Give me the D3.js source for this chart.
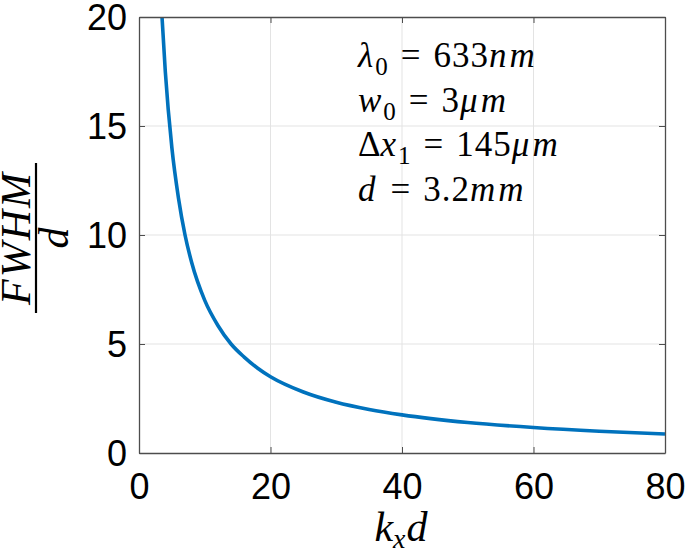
<!DOCTYPE html>
<html>
<head>
<meta charset="utf-8">
<script src="https://cdn.jsdelivr.net/npm/d3@7"></script>
<style>
  html, body { margin: 0; padding: 0; background: #fff; }
  svg { display: block; }
  .tick text { font-family: "Liberation Sans", Arial, sans-serif; }
  .math { font-family: "Liberation Serif", "Times New Roman", serif; }
</style>
</head>
<body>
<div id="chart"></div>
<script>
// values
const kd = [3.5, 4, 5, 6, 7, 8, 10, 12, 14, 16, 18, 20, 25, 30, 35, 40, 50, 60, 70, 80];
const fwhm = [20, 17.5, 14, 11.7, 10, 8.75, 7, 5.85, 5, 4.4, 3.9, 3.5, 2.8, 2.33, 2.0, 1.75, 1.4, 1.17, 1.0, 0.87];
const xTicks = [0, 20, 40, 60, 80];
const yTicks = [0, 5, 10, 15, 20];
// each line: symbol, subscript, value, unit
const notes = [
  ["λ", "0", "633", "nm"],
  ["w", "0", "3", "μm"],
  ["Δx", "1", "145", "μm"],
  ["d", "", "3.2", "mm"]
];

const W = 685, H = 555;
const m = { left: 139, top: 17, right: 20, bottom: 102 };

const svg = d3.select('#chart').append('svg')
  .attr('width', W).attr('height', H);

const x = d3.scaleLinear().domain([0, 80]).range([m.left, W - m.right]);
const y = d3.scaleLinear().domain([0, 20]).range([H - m.bottom, m.top]);

const axisColor = '#4d4d4d';

// grid
svg.append('g').selectAll('line').data(xTicks.slice(1, -1)).join('line')
  .attr('x1', d => x(d)).attr('x2', d => x(d))
  .attr('y1', y(0)).attr('y2', y(20))
  .attr('stroke', '#e3e3e3').attr('stroke-width', 1);
svg.append('g').selectAll('line').data(yTicks.slice(1, -1)).join('line')
  .attr('y1', d => y(d)).attr('y2', d => y(d))
  .attr('x1', x(0)).attr('x2', x(80))
  .attr('stroke', '#e3e3e3').attr('stroke-width', 1);

// curve
svg.append('clipPath').attr('id', 'plotclip')
  .append('rect').attr('x', x(0)).attr('y', y(20))
  .attr('width', x(80) - x(0)).attr('height', y(0) - y(20));

svg.append('path')
  .datum(kd.map((k, i) => [k, fwhm[i]]))
  .attr('clip-path', 'url(#plotclip)')
  .attr('fill', 'none')
  .attr('stroke', '#0072BD')
  .attr('stroke-width', 3.6)
  .attr('d', d3.line().x(d => x(d[0])).y(d => y(d[1])).curve(d3.curveMonotoneX));

// axes
function styleAxis(g) {
  g.select('.domain').attr('stroke', axisColor).attr('stroke-width', 1.3);
  g.selectAll('.tick line').attr('stroke', axisColor).attr('stroke-width', 1);
  g.selectAll('.tick text').attr('fill', '#000').style('font-size', '36px');
}

svg.append('g')
  .attr('transform', `translate(0,${y(0)})`)
  .call(d3.axisBottom(x).tickValues(xTicks).tickSize(-6).tickSizeOuter(0).tickPadding(14))
  .call(styleAxis)
  .selectAll('.tick text').attr('dy', '0.9em');

svg.append('g')
  .attr('transform', `translate(0,${y(20)})`)
  .call(d3.axisTop(x).tickValues(xTicks).tickSize(-6).tickSizeOuter(0).tickFormat(''))
  .call(styleAxis);

svg.append('g')
  .attr('transform', `translate(${x(0)},0)`)
  .call(d3.axisLeft(y).tickValues(yTicks).tickSize(-6).tickSizeOuter(0).tickPadding(12))
  .call(styleAxis)
  .selectAll('.tick text').attr('dy', '0.36em');

svg.append('g')
  .attr('transform', `translate(${x(80)},0)`)
  .call(d3.axisRight(y).tickValues(yTicks).tickSize(-6).tickSizeOuter(0).tickFormat(''))
  .call(styleAxis);

// annotation text
const noteG = svg.append('g').attr('class', 'math');
notes.forEach((n, i) => {
  const t = noteG.append('text')
    .attr('x', 358).attr('y', 67 + i * 44.5)
    .style('font-size', '35px').attr('fill', '#000');
  const sym = n[0];
  if (sym[0] === 'Δ') {
    t.append('tspan').text('Δ');
    t.append('tspan').text(sym.slice(1)).style('font-style', 'italic').attr('letter-spacing', 2);
  } else {
    t.append('tspan').text(sym).style('font-style', 'italic').attr('letter-spacing', 2);
  }
  if (n[1]) t.append('tspan').text(n[1]).style('font-size', '25px').attr('dy', 8);
  t.append('tspan').text('=').attr('dx', 13).attr('dy', n[1] ? -8 : 0);
  t.append('tspan').text(n[2]).attr('dx', 13).attr('letter-spacing', 1);
  t.append('tspan').text(n[3]).style('font-style', 'italic').attr('letter-spacing', 3);
});

// x label
const xl = svg.append('text').attr('class', 'math')
  .attr('x', 401).attr('y', 541).attr('text-anchor', 'middle')
  .style('font-size', '42px').style('font-style', 'italic');
xl.append('tspan').text('k');
xl.append('tspan').text('x').style('font-size', '28px').attr('dy', 7);
xl.append('tspan').text('d').attr('dy', -7).attr('dx', 1);

// y label (fraction)
const yl = svg.append('g').attr('class', 'math')
  .attr('transform', 'translate(36,238) rotate(-90)');
yl.append('text').attr('x', 0).attr('y', -6).attr('text-anchor', 'middle')
  .style('font-size', '42px').style('font-style', 'italic')
  .attr('letter-spacing', 2).text('FWHM');
yl.append('line').attr('x1', -75).attr('x2', 75).attr('y1', 0).attr('y2', 0)
  .attr('stroke', '#000').attr('stroke-width', 2.2);
yl.append('text').attr('x', 0).attr('y', 32).attr('text-anchor', 'middle')
  .style('font-size', '42px').style('font-style', 'italic').text('d');
</script>
</body>
</html>
